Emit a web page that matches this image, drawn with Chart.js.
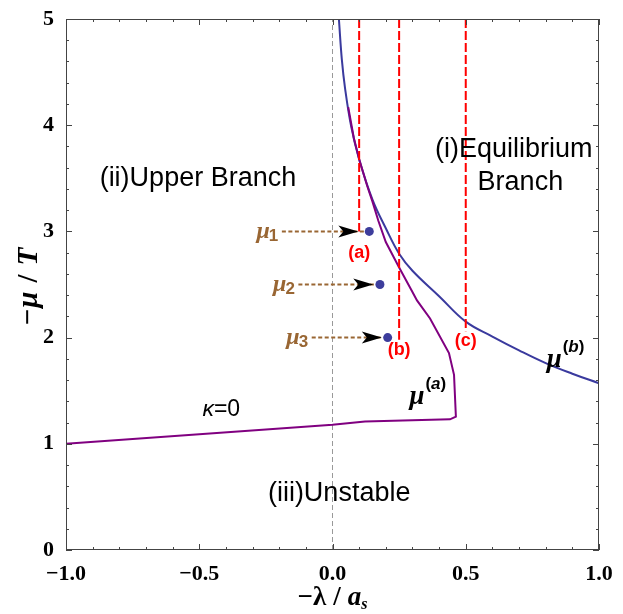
<!DOCTYPE html>
<html lang="en">
<head>
<meta charset="UTF-8" />
<title>Phase diagram</title>
<script src="https://cdnjs.cloudflare.com/ajax/libs/Chart.js/4.4.1/chart.umd.js"></script>
<style>
  html, body { margin: 0; padding: 0; background: #fff; }
  #wrap { width: 623px; height: 614px; }
</style>
</head>
<body>
<div id="wrap"><canvas id="phase"></canvas></div>
<script>
// equilibrium branch mu^(b)
const muBX = [0.024, 0.035, 0.047, 0.07, 0.1, 0.15, 0.2, 0.25, 0.3, 0.4, 0.5, 0.6, 0.7, 0.8, 0.9, 1.0];
const muBY = [5.0, 4.62, 4.35, 3.99, 3.68, 3.30, 3.03, 2.79, 2.63, 2.39, 2.15, 2.01, 1.88, 1.76, 1.66, 1.57];

// upper branch boundary mu^(a) (kappa = 0 segment on the left)
const muAX = [0.059, 0.08, 0.1, 0.13, 0.15, 0.172, 0.2, 0.25, 0.3, 0.317, 0.366, 0.437, 0.456, 0.463, 0.441, 0.122, 0.0, -1.0];
const muAY = [4.17, 3.88, 3.68, 3.43, 3.28, 3.10, 2.90, 2.66, 2.43, 2.35, 2.18, 1.855, 1.65, 1.255, 1.23, 1.21, 1.18, 1.0];

// red reference lines (a), (b), (c)
const refX = [0.1, 0.25, 0.5];
const refLow = [3.0, 1.98, 2.06];
const refNames = ['(a)', '(b)', '(c)'];

// states mu_1..mu_3 and their arrows
const stateX = [0.138, 0.178, 0.207];
const stateY = [3.0, 2.5, 2.0];
const stateNames = ['1', '2', '3'];
const arrowFrom = [-0.19, -0.128, -0.078];
const arrowTip = [0.097, 0.153, 0.185];

const xTicks = [-1.0, -0.5, 0.0, 0.5, 1.0];
const yTicks = [0, 1, 2, 3, 4, 5];

const RED = '#ff0000', BLUE = '#3a3a9e', PURPLE = '#800080', BROWN = '#996633';
const pts = (xs, ys) => xs.map((x, i) => ({ x, y: ys[i] }));

const datasets = [
  { data: pts(stateX, stateY), showLine: false, pointRadius: 4.5,
    pointBackgroundColor: '#3d3d9c', pointBorderWidth: 0, order: 0 },
  ...arrowFrom.map((x0, i) => ({
    data: [{ x: x0, y: stateY[i] }, { x: stateX[i] - 0.02, y: stateY[i] }],
    showLine: true, borderColor: BROWN, borderWidth: 2, borderDash: [4, 2.5],
    pointRadius: 0, order: 1 })),
  ...refX.map((x, i) => ({
    data: [{ x, y: 5 }, { x, y: refLow[i] }],
    showLine: true, borderColor: RED, borderWidth: 2, borderDash: [9, 3],
    pointRadius: 0, order: 2 })),
  { data: pts(muAX, muAY), showLine: true, borderColor: PURPLE, borderWidth: 2,
    pointRadius: 0, tension: 0, order: 3 },
  { data: pts(muBX, muBY), showLine: true, borderColor: BLUE, borderWidth: 2,
    pointRadius: 0, tension: 0.4, order: 4 },
  { data: [{ x: 0, y: 0 }, { x: 0, y: 5 }], showLine: true, borderColor: '#999',
    borderWidth: 1, borderDash: [5, 3], pointRadius: 0, order: 5 },
];

function txt(ctx, s, x, y, font, color, align) {
  ctx.font = font;
  ctx.fillStyle = color;
  ctx.textAlign = align || 'center';
  ctx.textBaseline = 'middle';
  ctx.fillText(s, x, y);
}

// draws a run of [text, font, dy, gapAfter] pieces centred on (cx, cy)
function run(ctx, pieces, cx, cy) {
  let total = 0;
  pieces.forEach(p => { ctx.font = p[1]; total += ctx.measureText(p[0]).width + (p[3] || 0); });
  let sx = cx - total / 2;
  pieces.forEach(p => {
    txt(ctx, p[0], sx, cy + (p[2] || 0), p[1], '#000', 'left');
    sx += ctx.measureText(p[0]).width + (p[3] || 0);
  });
}

const decor = {
  id: 'decor',
  afterDatasetsDraw(chart) {
    const { ctx, chartArea: a, scales: { x, y } } = chart;
    ctx.save();
    // frame and inward ticks
    ctx.strokeStyle = '#444';
    ctx.lineWidth = 1;
    ctx.strokeRect(a.left + 0.5, a.top + 0.5, a.right - a.left - 1, a.bottom - a.top - 1);
    ctx.beginPath();
    for (let k = -10; k <= 10; k++) {
      const px = Math.round(x.getPixelForValue(k / 10)) + 0.5;
      const len = k % 5 === 0 ? 6 : 3;
      ctx.moveTo(px, a.bottom); ctx.lineTo(px, a.bottom - len);
      ctx.moveTo(px, a.top); ctx.lineTo(px, a.top + len);
    }
    for (let k = 0; k <= 25; k++) {
      const py = Math.round(y.getPixelForValue(k / 5)) + 0.5;
      const len = k % 5 === 0 ? 6 : 3;
      ctx.moveTo(a.left, py); ctx.lineTo(a.left + len, py);
      ctx.moveTo(a.right, py); ctx.lineTo(a.right - len, py);
    }
    ctx.stroke();

    // arrowheads
    ctx.fillStyle = '#000';
    arrowTip.forEach((t, i) => {
      const tx = x.getPixelForValue(t), ty = y.getPixelForValue(stateY[i]);
      ctx.beginPath();
      ctx.moveTo(tx, ty);
      ctx.lineTo(tx - 20, ty - 6);
      ctx.lineTo(tx - 15, ty);
      ctx.lineTo(tx - 20, ty + 6);
      ctx.closePath();
      ctx.fill();
    });

    // mu_i labels
    stateNames.forEach((n, i) => {
      const lx = x.getPixelForValue(arrowFrom[i]) - 12, ly = y.getPixelForValue(stateY[i]);
      txt(ctx, '\u03bc', lx, ly, 'italic bold 24px "Liberation Serif"', BROWN, 'right');
      txt(ctx, n, lx - 1, ly + 5, 'bold 17px "Liberation Sans"', BROWN, 'left');
    });

    // reference labels
    refNames.forEach((s, i) => {
      const lx = x.getPixelForValue(refX[i]);
      const ly = y.getPixelForValue(refLow[i]) + (i === 0 ? 22 : 10);
      txt(ctx, s, lx, ly, 'bold 18px "Liberation Sans"', RED);
    });

    // region labels
    const sans = '27px "Liberation Sans"';
    txt(ctx, '(ii)Upper Branch', x.getPixelForValue(-0.505), y.getPixelForValue(3.5), sans, '#000');
    txt(ctx, '(i)Equilibrium', x.getPixelForValue(0.68), y.getPixelForValue(3.77), sans, '#000');
    txt(ctx, 'Branch', x.getPixelForValue(0.705), y.getPixelForValue(3.46), sans, '#000');
    txt(ctx, '(iii)Unstable', x.getPixelForValue(0.025), y.getPixelForValue(0.53), sans, '#000');

    // kappa = 0
    const kx = x.getPixelForValue(-0.40), ky = y.getPixelForValue(1.32);
    txt(ctx, '\u03ba', kx - 12, ky, 'italic 23px "Liberation Sans"', '#000', 'right');
    txt(ctx, '=0', kx - 12, ky, '23px "Liberation Sans"', '#000', 'left');

    // mu^(a), mu^(b)
    [[0.345, 1.44, '(a)'], [0.86, 1.79, '(b)']].forEach(([vx, vy, s]) => {
      const px = x.getPixelForValue(vx), py = y.getPixelForValue(vy);
      txt(ctx, '\u03bc', px, py, 'italic bold 27px "Liberation Serif"', '#000', 'right');
      txt(ctx, '(', px + 1, py - 13, 'bold 17px "Liberation Sans"', '#000', 'left');
      const w1 = ctx.measureText('(').width;
      txt(ctx, s[1], px + 1 + w1, py - 13, 'italic bold 17px "Liberation Sans"', '#000', 'left');
      const w2 = ctx.measureText(s[1]).width;
      txt(ctx, ')', px + 1 + w1 + w2, py - 13, 'bold 17px "Liberation Sans"', '#000', 'left');
    });

    // axis titles
    const B = 'bold 27px "Liberation Serif"', I = 'italic bold 27px "Liberation Serif"';
    run(ctx, [['\u2212\u03bb', B, 0, 7], ['/', B, 0, 7], ['a', I], ['s', 'italic bold 16px "Liberation Serif"', 7]],
      (a.left + a.right) / 2, 598);

    ctx.translate(30, (a.top + a.bottom) / 2 + 2);
    ctx.rotate(-Math.PI / 2);
    const B2 = 'bold 29px "Liberation Serif"', I2 = 'italic bold 29px "Liberation Serif"';
    run(ctx, [['\u2212', B2, 0, 1], ['\u03bc', I2, 0, 9], ['/', B2, 0, 9], ['T', I2]], 0, 0);
    ctx.restore();
  }
};

new Chart(document.getElementById('phase'), {
  type: 'scatter',
  data: { datasets },
  options: {
    responsive: true,
    maintainAspectRatio: false,
    animation: false,
    layout: { padding: { left: 0, right: 24, top: 19, bottom: 0 } },
    plugins: { legend: { display: false }, tooltip: { enabled: false } },
    scales: {
      x: {
        type: 'linear', min: -1, max: 1,
        afterFit: s => { s.height = 64; },
        afterBuildTicks: s => { s.ticks = xTicks.map(v => ({ value: v })); },
        grid: { display: false }, border: { display: false },
        ticks: {
          padding: 3, color: '#000',
          font: { family: 'Liberation Serif', size: 22, weight: 'bold' },
          callback: v => (v < 0 ? '\u2212' : '') + Math.abs(v).toFixed(1),
        },
      },
      y: {
        type: 'linear', min: 0, max: 5,
        afterFit: s => { s.width = 66; },
        afterBuildTicks: s => { s.ticks = yTicks.map(v => ({ value: v })); },
        grid: { display: false }, border: { display: false },
        ticks: {
          padding: 4, color: '#000',
          font: { family: 'Liberation Serif', size: 22, weight: 'bold' },
        },
      },
    },
  },
  plugins: [decor],
});
</script>
</body>
</html>
